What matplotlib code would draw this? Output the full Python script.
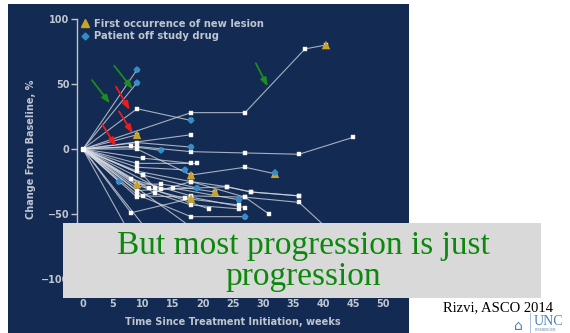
import matplotlib.pyplot as plt
from matplotlib.patches import Rectangle
from matplotlib.lines import Line2D

# --- data: one list of weeks / values per patient ---
weeks = [
    [0, 9], [0, 9], [0, 9, 18], [0, 18, 27, 37, 40.5], [0, 9], [0, 18],
    [0, 8, 13], [0, 9, 18], [0, 9, 18, 27, 36, 45], [0, 9, 18, 27, 32],
    [0, 10, 18], [0, 9, 19], [0, 9, 17], [0, 9, 18, 24, 28, 36],
    [0, 10, 19], [0, 6], [0, 8, 18, 27, 36, 44], [0, 9, 13, 22],
    [0, 13, 24, 28, 36], [0, 9, 15, 26], [0, 10, 18, 27], [0, 8, 18],
    [0, 11, 21], [0, 12, 18, 26], [0, 9, 18, 27], [0, 9, 18, 27, 31],
    [0, 12, 24], [0, 18, 27, 38], [0, 9], [0, 10, 12], [0, 9, 17, 26],
]
values = [
    [0, 61], [0, 51], [0, 31, 22], [0, 28, 28, 77, 80], [0, 11], [0, 11],
    [0, 2, -1], [0, 5, 1.5], [0, 2, -2, -3, -4, 9], [0, 0, -20, -14, -19],
    [0, -7, -11], [0, -11, -11], [0, -14, -16], [0, -17, -25, -29, -33, -36],
    [0, -20, -30], [0, -25], [0, -23, -36, -37, -41, -75], [0, -27, -27, -33],
    [0, -31, -29, -33, -36], [0, -32, -30, -39], [0, -36, -37, -45], [0, -49, -38],
    [0, -30, -46], [0, -34, -43, -46], [0, -35, -52, -52], [0, -37, -25, -37, -50],
    [0, -70, -90], [0, -60, -80, -95], [0, -75], [0, -20, -30], [0, -28, -38, -43],
]

# first occurrence of new lesion (triangles)
lesion_wk = [40.5, 9, 18, 32, 9, 22, 18]
lesion_val = [80, 11, -20, -19, -27, -33, -38]
# patient off study drug (diamonds)
offdrug_wk = [9, 9, 18, 13, 18, 17, 19, 6, 26, 27, 32]
offdrug_val = [61, 51, 22, -1, 1.5, -16, -30, -25, -39, -52, -18]

xticks = [0, 5, 10, 15, 20, 25, 30, 35, 40, 45, 50]
yticks = [-100, -50, 0, 50, 100]

W, H = 570, 333
navy = '#132b52'
light = '#bfc5d0'

fig = plt.figure(figsize=(W / 100, H / 100), dpi=100)
fig.patch.set_facecolor('white')

# navy slide panel behind the chart
fig.add_artist(Rectangle((8 / W, 0), 401 / W, 1 - 4 / H, transform=fig.transFigure,
                         facecolor=navy, edgecolor='none', zorder=-1))

ax = fig.add_axes([77 / W, 1 - 296 / H, 312 / W, 277 / H])
ax.set_facecolor('none')

for wk, val in zip(weeks, values):
    ax.plot(wk, val, color='#d8dce4', lw=0.8, alpha=0.75, zorder=2)
    ax.plot(wk[1:], val[1:], ls='none', marker='s', ms=3.2, mfc='white',
            mec='#e6e6e6', mew=0.3, zorder=3)
ax.plot([0], [0], ls='none', marker='s', ms=3.2, color='white', zorder=3)

ax.scatter(lesion_wk, lesion_val, marker='^', s=38, color='#c9a227',
           edgecolors='none', zorder=4, label='First occurrence of new lesion')
ax.scatter(offdrug_wk, offdrug_val, marker='D', s=14, color='#2f8fcc',
           edgecolors='none', zorder=5, label='Patient off study drug')

ax.set_xlim(-1, 51)
ax.set_ylim(-113, 100)
ax.set_xticks(xticks)
ax.set_yticks(yticks)
ax.set_yticklabels(['\u2212100', '\u221250', '0', '50', '100'])

for s in ['top', 'right']:
    ax.spines[s].set_visible(False)
ax.spines['left'].set_bounds(-113, 100)
for s in ['left', 'bottom']:
    ax.spines[s].set_color(light)
    ax.spines[s].set_linewidth(1.0)
ax.tick_params(axis='y', colors=light, length=4, width=1, pad=1.5,
               labelsize=7)
ax.tick_params(axis='x', colors=light, length=0, pad=2, labelsize=7)
for lab in ax.get_xticklabels() + ax.get_yticklabels():
    lab.set_fontweight('bold')

ax.set_xlabel('Time Since Treatment Initiation, weeks', color=light,
              fontsize=7, fontweight='bold', labelpad=6)
ax.set_ylabel('Change From Baseline, %', color=light, fontsize=7,
              fontweight='bold')
ax.yaxis.set_label_coords(-0.13, 0.53)

handles = [
    Line2D([], [], ls='none', marker='^', ms=6, color='#c9a227'),
    Line2D([], [], ls='none', marker='D', ms=3.5, color='#2f8fcc'),
]
leg = ax.legend(handles, ['First occurrence of new lesion', 'Patient off study drug'],
                loc='upper left', bbox_to_anchor=(0.0, 1.015), frameon=False,
                handlelength=0.8, handletextpad=0.5, labelspacing=0.25,
                borderaxespad=0, prop={'size': 7.2, 'weight': 'bold'})
for t in leg.get_texts():
    t.set_color(light)

# annotation arrows (data coordinates)
green_arrows = [((1.5, 53), (4.5, 35)), ((5.2, 64), (8.3, 46)), ((28.8, 66), (30.8, 48))]
red_arrows = [((5.5, 48), (7.8, 30)), ((6.0, 29), (8.3, 12)), ((3.2, 19), (5.5, 2))]
for arrows, col in [(green_arrows, '#1e8c1e'), (red_arrows, '#ee1c1c')]:
    for (x0, y0), (x1, y1) in arrows:
        ax.annotate('', xy=(x1, y1), xytext=(x0, y0), zorder=6,
                    arrowprops=dict(arrowstyle='-|>,head_length=0.5,head_width=0.18',
                                    color=col, lw=1.3, shrinkA=0, shrinkB=0))

# grey overlay box with the slide message
fig.add_artist(Rectangle((63 / W, 1 - 298 / H), 478 / W, 75 / H,
                         transform=fig.transFigure, facecolor='#d9d9d9',
                         edgecolor='none', zorder=5))
fig.text(303 / W, 1 - 254 / H, 'But most progression is just', ha='center',
         va='baseline', fontsize=24, color='#0c880c', family='Liberation Serif',
         zorder=6)
fig.text(303 / W, 1 - 285 / H, 'progression', ha='center', va='baseline',
         fontsize=24, color='#0c880c', family='Liberation Serif', zorder=6)

fig.text(443 / W, 1 - 311 / H, 'Rizvi, ASCO 2014', ha='left', va='baseline',
         fontsize=10.5, color='black', family='Liberation Serif')

# UNC logo stand-in
fig.text(518 / W, 1 - 330 / H, '\u2302', ha='center', va='baseline',
         fontsize=10, color='#4f7fb8')
fig.add_artist(Line2D([530 / W, 530 / W], [0, 1 - 313 / H], transform=fig.transFigure,
                      color='#9ab3d3', lw=0.6))
fig.text(534 / W, 1 - 325 / H, 'UNC', ha='left', va='baseline', fontsize=10,
         color='#4f7fb8', family='Liberation Serif')
fig.text(535 / W, 1 - 331 / H, 'LINEBERGER', ha='left', va='baseline', fontsize=2.5,
         color='#4f7fb8', family='Liberation Serif')

fig.savefig('out.png', dpi=100)
